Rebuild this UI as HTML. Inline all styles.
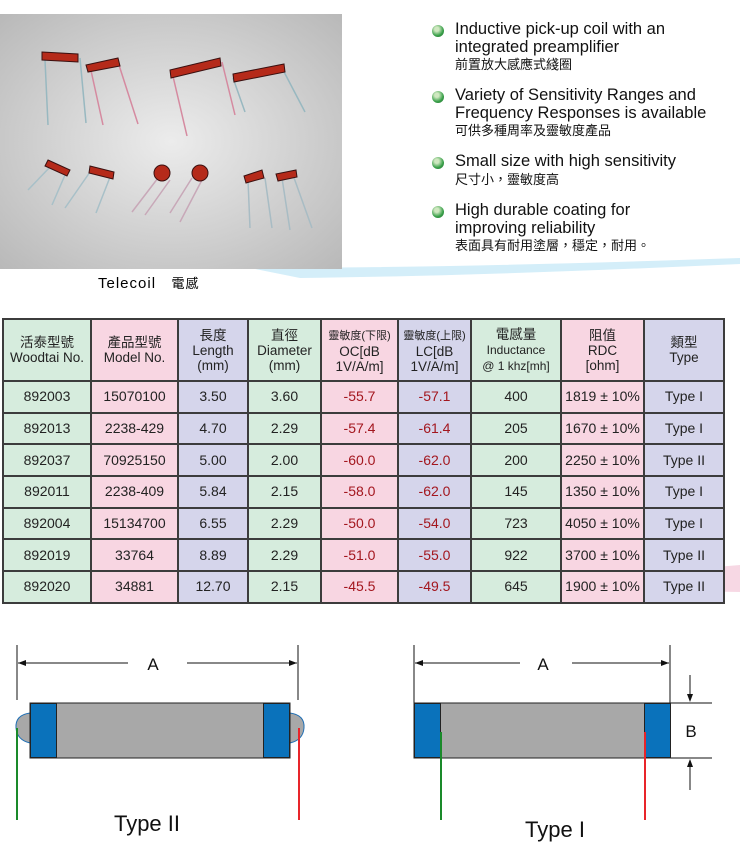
<!DOCTYPE html>
<html><head><meta charset="utf-8"><style>
body{margin:0;width:740px;height:852px;position:relative;background:#fff;font-family:"Liberation Sans","Noto Sans CJK TC",sans-serif;overflow:hidden}
.a{position:absolute}
table{position:absolute;left:2px;top:318px;border-collapse:collapse;table-layout:fixed;width:721px}
td{border:2px solid #3c3c3c;text-align:center;font-size:14px;color:#222;padding:0;height:29.7px;line-height:15px}
tr.h td{height:60px;font-size:13.5px}
.g{background:#d6ecdd}.p{background:#f8d6e2}.l{background:#d5d5eb}
.r{color:#a3161e}
.b{position:absolute;left:432px;width:12px;height:12px;border-radius:50%;background:radial-gradient(circle at 40% 35%,#cfe8c0 0 20%,#3aa04a 60%,#1f6b2a)}
.t{position:absolute;left:455px;font-size:16.5px;line-height:17.5px;color:#111}
.c{font-size:13px;line-height:18px}
</style></head><body>
<svg class="a" style="left:0;top:0" width="740" height="852">
<defs><radialGradient id="bg" cx="50%" cy="50%" r="70%"><stop offset="0" stop-color="#ececec"/><stop offset="1" stop-color="#b9b9b9"/></radialGradient></defs>
<path d="M250 268 Q450 268 740 258 L740 264 Q480 276 300 278Z" fill="#d4eef9"/>
<path d="M620 575 L740 565 L740 592 L620 590Z" fill="#f7d8e4"/>
<rect x="0" y="14" width="342" height="255" fill="url(#bg)"/>
<g stroke-width="1.5" fill="none">
<path d="M45 60 L48 125 M80 58 L86 123" stroke="#98b8c0"/><path d="M90 66 L103 125 M118 62 L138 124" stroke="#d58aa0"/>
<path d="M172 72 L187 136 M222 62 L235 115" stroke="#d58aa0"/><path d="M233 78 L245 112 M282 68 L305 112" stroke="#98b8c0"/>
<path d="M50 167 L28 190 M65 175 L52 205 M90 172 L65 208 M112 172 L96 213" stroke="#a8c0c8"/>
<path d="M158 178 L132 212 M170 180 L145 215 M192 178 L170 213 M203 178 L180 222" stroke="#c8a8b8"/>
<path d="M248 180 L250 228 M265 178 L272 228 M282 178 L290 230 M293 175 L312 228" stroke="#a8bcc4"/>
</g>
<g fill="#b52a1a" stroke="#3a1010" stroke-width="1">
<path d="M42 52 L78 54 L78 62 L42 60Z"/><path d="M86 65 L118 58 L120 66 L88 72Z"/>
<path d="M170 70 L220 58 L221 66 L171 78Z"/><path d="M233 74 L284 64 L285 72 L234 82Z"/>
<path d="M48 160 L70 170 L67 176 L45 166Z"/><path d="M90 166 L114 172 L113 179 L89 173Z"/>
<circle cx="162" cy="173" r="8"/><circle cx="200" cy="173" r="8"/>
<path d="M244 176 L262 170 L264 178 L246 183Z"/><path d="M276 174 L296 170 L297 177 L278 181Z"/>
</g>
<g stroke="#111" stroke-width="1" fill="none">
<line x1="17" y1="645" x2="17" y2="700"/><line x1="298" y1="645" x2="298" y2="700"/>
<line x1="18" y1="663" x2="128" y2="663"/><line x1="187" y1="663" x2="297" y2="663"/>
<line x1="414" y1="645" x2="414" y2="703"/><line x1="670" y1="645" x2="670" y2="703"/>
<line x1="415" y1="663" x2="520" y2="663"/><line x1="572" y1="663" x2="669" y2="663"/>
<line x1="670" y1="703" x2="712" y2="703"/><line x1="670" y1="758" x2="712" y2="758"/>
<line x1="690" y1="675" x2="690" y2="700"/><line x1="690" y1="762" x2="690" y2="790"/>
</g>
<g fill="#111">
<path d="M18 663 l8 -3 v6z"/><path d="M297 663 l-8 -3 v6z"/>
<path d="M415 663 l8 -3 v6z"/><path d="M669 663 l-8 -3 v6z"/>
<path d="M690 702 l-3 -8 h6z"/><path d="M690 759 l-3 8 h6z"/>
</g>
<path d="M30 713 Q15 715 16 728 Q17 740 30 743Z" fill="#a8a8a8" stroke="#1f6fb5"/>
<path d="M290 713 Q305 715 304 728 Q303 740 290 743Z" fill="#a8a8a8" stroke="#1f6fb5"/>
<rect x="30" y="703" width="260" height="55" fill="#a8a8a8" stroke="#222"/>
<rect x="30.5" y="703.5" width="26" height="54" fill="#0a72bb" stroke="#222"/>
<rect x="263.5" y="703.5" width="26" height="54" fill="#0a72bb" stroke="#222"/>
<line x1="17" y1="728" x2="17" y2="820" stroke="#1a8a2a" stroke-width="2"/>
<line x1="299" y1="728" x2="299" y2="820" stroke="#e8252a" stroke-width="2"/>
<rect x="414" y="703" width="256" height="55" fill="#a8a8a8" stroke="#222"/>
<rect x="414.5" y="703.5" width="26" height="54" fill="#0a72bb" stroke="#222"/>
<rect x="644.5" y="703.5" width="26" height="54" fill="#0a72bb" stroke="#222"/>
<line x1="441" y1="732" x2="441" y2="820" stroke="#1a8a2a" stroke-width="2"/>
<line x1="645" y1="732" x2="645" y2="820" stroke="#e8252a" stroke-width="2"/>
<g font-family="Liberation Sans,sans-serif" fill="#111">
<text x="153" y="670" font-size="17" text-anchor="middle">A</text>
<text x="543" y="670" font-size="17" text-anchor="middle">A</text>
<text x="691" y="737" font-size="17" text-anchor="middle">B</text>
<text x="147" y="831" font-size="22" text-anchor="middle">Type II</text>
<text x="555" y="837" font-size="22" text-anchor="middle">Type I</text>
</g>
</svg>
<div class="a" style="left:98px;top:273px;font-size:15px;letter-spacing:1px">Telecoil&nbsp;&nbsp; <span style="font-size:13px">電感</span></div>
<div class="b" style="top:25px"></div><div class="t" style="top:21px">Inductive pick-up coil with an<br>integrated preamplifier<br><span class="c">前置放大感應式綫圈</span></div>
<div class="b" style="top:91px"></div><div class="t" style="top:87px">Variety of Sensitivity Ranges and<br>Frequency Responses is available<br><span class="c">可供多種周率及靈敏度產品</span></div>
<div class="b" style="top:157px"></div><div class="t" style="top:153px">Small size with high sensitivity<br><span class="c">尺寸小，靈敏度高</span></div>
<div class="b" style="top:206px"></div><div class="t" style="top:202px">High durable coating for<br>improving reliability<br><span class="c">表面具有耐用塗層，穩定，耐用。</span></div>
<table>
<colgroup><col style="width:88px"><col style="width:87px"><col style="width:70px"><col style="width:73px"><col style="width:77px"><col style="width:73px"><col style="width:90px"><col style="width:83px"><col style="width:80px"></colgroup>
<tr class="h"><td class="g">活泰型號<br>Woodtai No.</td><td class="p">產品型號<br>Model No.</td><td class="l">長度<br>Length<br>(mm)</td><td class="g">直徑<br>Diameter<br>(mm)</td><td class="p"><span style="font-size:11px">靈敏度(下限)</span><br>OC[dB<br>1V/A/m]</td><td class="l"><span style="font-size:11px">靈敏度(上限)</span><br>LC[dB<br>1V/A/m]</td><td class="g">電感量<br><span style="font-size:12px">Inductance<br>@ 1 khz[mh]</span></td><td class="p">阻值<br>RDC<br>[ohm]</td><td class="l">類型<br>Type</td></tr>
<tr><td class="g">892003</td><td class="p">15070100</td><td class="l">3.50</td><td class="g">3.60</td><td class="p r">-55.7</td><td class="l r">-57.1</td><td class="g">400</td><td class="p">1819 ± 10%</td><td class="l">Type I</td></tr>
<tr><td class="g">892013</td><td class="p">2238-429</td><td class="l">4.70</td><td class="g">2.29</td><td class="p r">-57.4</td><td class="l r">-61.4</td><td class="g">205</td><td class="p">1670 ± 10%</td><td class="l">Type I</td></tr>
<tr><td class="g">892037</td><td class="p">70925150</td><td class="l">5.00</td><td class="g">2.00</td><td class="p r">-60.0</td><td class="l r">-62.0</td><td class="g">200</td><td class="p">2250 ± 10%</td><td class="l">Type II</td></tr>
<tr><td class="g">892011</td><td class="p">2238-409</td><td class="l">5.84</td><td class="g">2.15</td><td class="p r">-58.0</td><td class="l r">-62.0</td><td class="g">145</td><td class="p">1350 ± 10%</td><td class="l">Type I</td></tr>
<tr><td class="g">892004</td><td class="p">15134700</td><td class="l">6.55</td><td class="g">2.29</td><td class="p r">-50.0</td><td class="l r">-54.0</td><td class="g">723</td><td class="p">4050 ± 10%</td><td class="l">Type I</td></tr>
<tr><td class="g">892019</td><td class="p">33764</td><td class="l">8.89</td><td class="g">2.29</td><td class="p r">-51.0</td><td class="l r">-55.0</td><td class="g">922</td><td class="p">3700 ± 10%</td><td class="l">Type II</td></tr>
<tr><td class="g">892020</td><td class="p">34881</td><td class="l">12.70</td><td class="g">2.15</td><td class="p r">-45.5</td><td class="l r">-49.5</td><td class="g">645</td><td class="p">1900 ± 10%</td><td class="l">Type II</td></tr>
</table>
</body></html>
